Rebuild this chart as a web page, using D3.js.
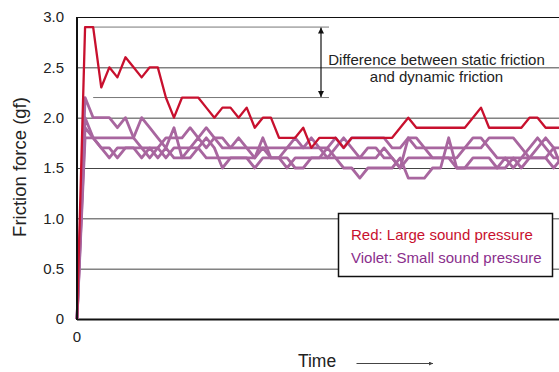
<!DOCTYPE html>
<html>
<head>
<meta charset="utf-8">
<script src="https://cdn.jsdelivr.net/npm/d3@7"></script>
<style>
  body { margin: 0; background: #fff; }
  svg { font-family: "Liberation Sans", Arial, Helvetica, sans-serif; }
</style>
</head>
<body>
<div id="chart"></div>
<script>
// friction force (gf) per sample step
const redValues = [0, 2.9, 2.9, 2.3, 2.5, 2.4, 2.6, 2.5, 2.4, 2.5, 2.5, 2.2, 2.0, 2.2, 2.2, 2.2, 2.1, 2.0, 2.1, 2.1,
  2.0, 2.1, 1.9, 2.0, 2.0, 1.8, 1.8, 1.8, 1.9, 1.7, 1.8, 1.8, 1.8, 1.7, 1.8, 1.8, 1.8, 1.8, 1.8, 1.8,
  1.9, 2.0, 1.9, 1.9, 1.9, 1.9, 1.9, 1.9, 1.9, 2.0, 2.1, 1.9, 1.9, 1.9, 1.9, 1.9, 2.0, 2.0, 1.9, 1.9, 1.9];

const violet1 = [0, 2.2, 2.0, 2.0, 2.0, 1.9, 2.0, 1.8, 1.7, 1.6, 1.7, 1.8, 1.8, 1.8, 1.9, 1.8, 1.9, 1.8, 1.7, 1.7,
  1.7, 1.7, 1.7, 1.7, 1.7, 1.7, 1.7, 1.7, 1.7, 1.7, 1.7, 1.7, 1.8, 1.7, 1.8, 1.8, 1.8, 1.8, 1.8, 1.7,
  1.7, 1.8, 1.8, 1.7, 1.7, 1.7, 1.7, 1.7, 1.7, 1.8, 1.8, 1.7, 1.6, 1.6, 1.6, 1.6, 1.7, 1.8, 1.7, 1.6, 1.6];
const violet2 = [0, 2.0, 1.8, 1.7, 1.6, 1.7, 1.7, 1.7, 1.6, 1.7, 1.6, 1.7, 1.6, 1.6, 1.6, 1.7, 1.8, 1.7, 1.5, 1.6,
  1.6, 1.6, 1.6, 1.8, 1.6, 1.6, 1.6, 1.5, 1.5, 1.6, 1.6, 1.7, 1.6, 1.5, 1.5, 1.4, 1.5, 1.5, 1.5, 1.5,
  1.6, 1.4, 1.4, 1.4, 1.5, 1.5, 1.8, 1.5, 1.5, 1.6, 1.6, 1.6, 1.5, 1.5, 1.6, 1.5, 1.6, 1.6, 1.6, 1.5, 1.6];
const violet3 = [0, 1.8, 1.8, 1.8, 1.8, 1.8, 1.8, 1.8, 2.0, 1.9, 1.8, 1.7, 1.9, 1.6, 1.7, 1.8, 1.7, 1.8, 1.8, 1.7,
  1.8, 1.7, 1.6, 1.7, 1.6, 1.6, 1.7, 1.8, 1.7, 1.8, 1.7, 1.6, 1.7, 1.8, 1.7, 1.6, 1.6, 1.6, 1.7, 1.6,
  1.5, 1.6, 1.6, 1.6, 1.6, 1.6, 1.6, 1.6, 1.7, 1.7, 1.7, 1.8, 1.8, 1.8, 1.8, 1.7, 1.6, 1.6, 1.6, 1.7, 1.7];
const violet4 = [0, 1.9, 1.8, 1.7, 1.7, 1.6, 1.7, 1.7, 1.7, 1.7, 1.7, 1.6, 1.7, 1.7, 1.7, 1.7, 1.6, 1.6, 1.6, 1.6,
  1.6, 1.6, 1.5, 1.6, 1.6, 1.6, 1.5, 1.6, 1.6, 1.6, 1.6, 1.6, 1.6, 1.6, 1.6, 1.6, 1.7, 1.7, 1.6, 1.6,
  1.5, 1.8, 1.7, 1.7, 1.6, 1.6, 1.6, 1.5, 1.5, 1.5, 1.5, 1.5, 1.5, 1.6, 1.5, 1.6, 1.6, 1.7, 1.8, 1.7, 1.5];
const violetSeries = [violet1, violet2, violet3, violet4];

const yTicks = [0, 0.5, 1.0, 1.5, 2.0, 2.5, 3.0];
const staticLevel = 2.9;
const dynamicLevel = 2.2;
const noteLines = ["Difference between static friction", "and dynamic friction"];
const legendLabels = ["Red: Large sound pressure", "Violet: Small sound pressure"];

const width = 559, height = 372;
const plotLeft = 77, plotTop = 17, plotBottom = 319;

const svg = d3.select('#chart').append('svg')
    .attr('width', width)
    .attr('height', height);

const x = d3.scaleLinear().domain([0, 60]).range([plotLeft, plotLeft + 8.08 * 60]);
const y = d3.scaleLinear().domain([0, 3]).range([plotBottom, plotTop]);

// gridlines + tick labels
const yAxis = svg.append('g')
    .attr('transform', `translate(${plotLeft},0)`)
    .call(d3.axisLeft(y).tickValues(yTicks)
        .tickSize(-(width - plotLeft))
        .tickPadding(13)
        .tickFormat(d => d === 0 ? '0' : d.toFixed(1)));
yAxis.select('.domain').remove();
yAxis.selectAll('.tick line')
    .attr('stroke', d => d === 0 || d === 3 ? '#111' : '#444')
    .attr('stroke-width', d => d === 0 ? 2 : 1);
yAxis.selectAll('.tick text')
    .attr('font-size', 15)
    .attr('fill', '#222')
    .attr('font-family', '"Liberation Sans", Arial, sans-serif');

// annotation reference lines
const noteRight = 329;
svg.append('g')
    .selectAll('line')
    .data([staticLevel, dynamicLevel])
    .join('line')
    .attr('x1', x(2))
    .attr('x2', noteRight)
    .attr('y1', d => y(d))
    .attr('y2', d => y(d))
    .attr('stroke', '#777')
    .attr('stroke-width', 1);

svg.append('defs').selectAll('marker')
    .data(['arrowEnd', 'arrowStart'])
    .join('marker')
    .attr('id', d => d)
    .attr('viewBox', '0 -5 10 10')
    .attr('refX', 10)
    .attr('refY', 0)
    .attr('orient', d => d === 'arrowEnd' ? 'auto' : 'auto-start-reverse')
    .attr('markerWidth', 5)
    .attr('markerHeight', 6)
    .append('path')
    .attr('d', 'M0,-5L10,0L0,5Z')
    .attr('fill', '#111');

svg.append('line')
    .attr('x1', 321).attr('x2', 321)
    .attr('y1', y(staticLevel) + 0.5)
    .attr('y2', y(dynamicLevel) - 0.5)
    .attr('stroke', '#111')
    .attr('stroke-width', 1.2)
    .attr('marker-end', 'url(#arrowEnd)')
    .attr('marker-start', 'url(#arrowStart)');

svg.append('g')
    .selectAll('text')
    .data(noteLines)
    .join('text')
    .attr('x', 436.5)
    .attr('y', (d, i) => 65 + i * 17)
    .attr('text-anchor', 'middle')
    .attr('font-size', 15)
    .attr('fill', '#222')
    .text(d => d);

// series
const line = d3.line()
    .x((d, i) => x(i))
    .y(d => y(d));

svg.append('g')
    .selectAll('path')
    .data(violetSeries)
    .join('path')
    .attr('d', line)
    .attr('fill', 'none')
    .attr('stroke', '#a8669f')
    .attr('stroke-width', 2.8)
    .attr('stroke-linejoin', 'round');

svg.append('path')
    .datum(redValues)
    .attr('d', line)
    .attr('fill', 'none')
    .attr('stroke', '#c8102e')
    .attr('stroke-width', 2.3)
    .attr('stroke-linejoin', 'round');

// left axis line
svg.append('line')
    .attr('x1', plotLeft).attr('x2', plotLeft)
    .attr('y1', plotTop).attr('y2', plotBottom + 1)
    .attr('stroke', '#111').attr('stroke-width', 2);

// legend
const legend = svg.append('g');
legend.append('rect')
    .attr('x', 338.5).attr('y', 213.5)
    .attr('width', 214).attr('height', 63)
    .attr('fill', '#fff')
    .attr('stroke', '#111')
    .attr('stroke-width', 1.5);
legend.selectAll('text')
    .data(legendLabels)
    .join('text')
    .attr('x', 351)
    .attr('y', (d, i) => 239.5 + i * 23)
    .attr('font-size', 15)
    .attr('fill', (d, i) => i === 0 ? '#c8102e' : '#8a2e8c')
    .text(d => d);

// x axis label
svg.append('text')
    .attr('x', x(0))
    .attr('y', 341.5)
    .attr('text-anchor', 'middle')
    .attr('font-size', 15)
    .attr('fill', '#222')
    .text('0');

svg.append('text')
    .attr('x', 317)
    .attr('y', 367)
    .attr('text-anchor', 'middle')
    .attr('font-size', 17.5)
    .attr('fill', '#222')
    .text('Time');

svg.append('defs').append('marker')
    .attr('id', 'timeArrow')
    .attr('viewBox', '0 -5 10 10')
    .attr('refX', 10).attr('refY', 0)
    .attr('orient', 'auto')
    .attr('markerWidth', 4).attr('markerHeight', 4)
    .append('path')
    .attr('d', 'M0,-5L10,0L0,5Z')
    .attr('fill', '#444');

svg.append('line')
    .attr('x1', 356.5).attr('x2', 433)
    .attr('y1', 363.5).attr('y2', 363.5)
    .attr('stroke', '#444')
    .attr('stroke-width', 1)
    .attr('marker-end', 'url(#timeArrow)');

svg.append('text')
    .attr('transform', 'translate(26,167) rotate(-90)')
    .attr('text-anchor', 'middle')
    .attr('font-size', 18.5)
    .attr('fill', '#222')
    .text('Friction force (gf)');
</script>
</body>
</html>
